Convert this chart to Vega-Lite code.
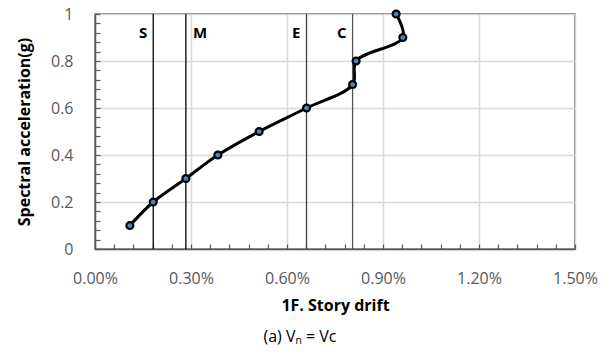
{
  "$schema": "https://vega.github.io/schema/vega-lite/v6.json",
  "width": 480,
  "height": 235,
  "autosize": "none",
  "padding": {"left": 95, "top": 14, "right": 41, "bottom": 105},
  "background": "white",
  "config": {
    "font": "Open Sans",
    "view": {"stroke": "#595959", "strokeWidth": 1.5}
  },
  "title": {
    "text": "(a) Vₙ = Vc",
    "orient": "bottom",
    "anchor": "middle",
    "fontSize": 16,
    "fontWeight": "normal",
    "font": "Open Sans",
    "color": "black",
    "offset": 16,
    "dx": -35
  },
  "datasets": {
    "curve": [
      {"drift": 0.00109, "sa": 0.1},
      {"drift": 0.00182, "sa": 0.2},
      {"drift": 0.00284, "sa": 0.3},
      {"drift": 0.00384, "sa": 0.4},
      {"drift": 0.00513, "sa": 0.5},
      {"drift": 0.00661, "sa": 0.6},
      {"drift": 0.00805, "sa": 0.7},
      {"drift": 0.00816, "sa": 0.8},
      {"drift": 0.00962, "sa": 0.9},
      {"drift": 0.00941, "sa": 1.0}
    ],
    "levels": [
      {"level": "S", "drift": 0.00182},
      {"level": "M", "drift": 0.00284},
      {"level": "E", "drift": 0.00661},
      {"level": "C", "drift": 0.00805}
    ]
  },
  "layer": [
    {
      "data": {"name": "curve"},
      "mark": {"type": "line", "interpolate": "catmull-rom", "color": "black", "strokeWidth": 3},
      "encoding": {
        "x": {
          "field": "drift",
          "type": "quantitative",
          "scale": {"domain": [0, 0.015], "nice": false, "zero": true},
          "axis": {
            "title": "1F. Story drift",
            "titleFontSize": 16,
            "titleFontWeight": "bold",
            "titleColor": "black",
            "titlePadding": 11,
            "tickCount": 40,
            "values": [0, 0.0006, 0.0012, 0.0018, 0.0024, 0.003, 0.0036, 0.0042, 0.0048, 0.0054, 0.006, 0.0066, 0.0072, 0.0078, 0.0084, 0.009, 0.0096, 0.0102, 0.0108, 0.0114, 0.012, 0.0126, 0.0132, 0.0138, 0.0144, 0.015],
            "format": ".2%",
            "labelExpr": "abs(datum.value/0.003 - round(datum.value/0.003)) < 0.01 ? datum.label : ''",
            "labelOverlap": false,
            "labelFontSize": 16,
            "labelColor": "#595959",
            "labelPadding": 26,
            "labelFlush": false,
            "grid": true,
            "gridWidth": 1.5,
            "gridColor": {"condition": {"test": "abs(datum.value/0.003 - round(datum.value/0.003)) < 0.01", "value": "#d9d9d9"}, "value": "rgba(255,255,255,0)"},
            "tickSize": -5,
            "tickColor": "#595959",
            "tickWidth": 1.2,
            "domainColor": "#595959",
            "domainWidth": 1.5
          }
        },
        "y": {
          "field": "sa",
          "type": "quantitative",
          "scale": {"domain": [0, 1], "nice": false},
          "axis": {
            "title": "Spectral acceleration(g)",
            "titleFontSize": 16,
            "titleFontWeight": "bold",
            "titleColor": "black",
            "titlePadding": 18,
            "tickCount": 40,
            "values": [0, 0.04, 0.08, 0.12, 0.16, 0.2, 0.24, 0.28, 0.32, 0.36, 0.4, 0.44, 0.48, 0.52, 0.56, 0.6, 0.64, 0.68, 0.72, 0.76, 0.8, 0.84, 0.88, 0.92, 0.96, 1],
            "labelExpr": "abs(datum.value/0.2 - round(datum.value/0.2)) < 0.01 ? format(datum.value, '~g') : ''",
            "labelOverlap": false,
            "labelFontSize": 16,
            "labelColor": "#595959",
            "labelPadding": 27,
            "labelFlush": false,
            "grid": true,
            "gridWidth": 1.5,
            "gridColor": {"condition": {"test": "abs(datum.value/0.2 - round(datum.value/0.2)) < 0.01", "value": "#d9d9d9"}, "value": "rgba(255,255,255,0)"},
            "tickSize": -5,
            "tickColor": "#595959",
            "tickWidth": 1.2,
            "domainColor": "#595959",
            "domainWidth": 1.5
          }
        },
        "order": {"field": "sa", "type": "quantitative"}
      }
    },
    {
      "data": {"name": "levels"},
      "mark": {"type": "rule", "strokeWidth": 1.3},
      "encoding": {
        "x": {"field": "drift", "type": "quantitative"},
        "color": {
          "field": "level",
          "type": "nominal",
          "scale": {"domain": ["S", "M", "E", "C"], "range": ["black", "black", "#404040", "#555555"]},
          "legend": null
        }
      }
    },
    {
      "data": {"name": "curve"},
      "mark": {"type": "point", "shape": "circle", "filled": false, "fill": "#4f81bd", "stroke": "black", "strokeWidth": 2.2, "size": 48, "opacity": 1},
      "encoding": {
        "x": {"field": "drift", "type": "quantitative"},
        "y": {"field": "sa", "type": "quantitative"}
      }
    },
    {
      "data": {"name": "levels"},
      "transform": [{"filter": "datum.level !== 'M'"}],
      "mark": {"type": "text", "align": "right", "baseline": "middle", "dx": -6, "fontSize": 15, "fontWeight": "bold", "color": "black"},
      "encoding": {
        "x": {"field": "drift", "type": "quantitative"},
        "y": {"datum": 0.92},
        "text": {"field": "level"}
      }
    },
    {
      "data": {"name": "levels"},
      "transform": [{"filter": "datum.level === 'M'"}],
      "mark": {"type": "text", "align": "left", "baseline": "middle", "dx": 7, "fontSize": 15, "fontWeight": "bold", "color": "black"},
      "encoding": {
        "x": {"field": "drift", "type": "quantitative"},
        "y": {"datum": 0.92},
        "text": {"field": "level"}
      }
    }
  ]
}
